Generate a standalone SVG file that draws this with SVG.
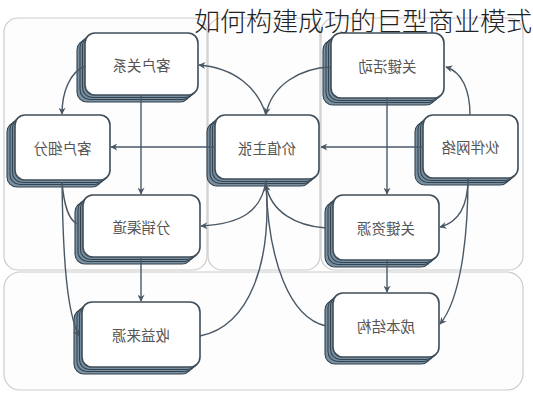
<svg xmlns="http://www.w3.org/2000/svg" width="533" height="400" viewBox="0 0 533 400">
<defs>
<style>
.p{fill:#fdfdfd;stroke:#cccccc;stroke-width:1.2}
.s{fill:#7890a2;stroke:#33434f;stroke-width:1.1}
.f{fill:#ffffff;stroke:#3f4d58;stroke-width:1.6}
.t{font-family:"Noto Sans CJK SC","Noto Sans",sans-serif;font-size:14.5px;fill:#555555;text-anchor:middle;dominant-baseline:central}
.c{fill:none;stroke:#4a5866;stroke-width:1.4}
.a{marker-end:url(#ar)}
.title{font-family:"Noto Sans CJK SC","Noto Sans",sans-serif;font-size:26px;font-weight:300;fill:#222222}
</style>
<marker id="ar" viewBox="0 0 10 10" refX="9" refY="5" markerWidth="8" markerHeight="7" markerUnits="userSpaceOnUse" orient="auto">
<path d="M0,0 L10,5 L0,10 L3,5 z" fill="#4a5866"/>
</marker>
</defs>
<rect width="533" height="400" fill="#ffffff"/>
<g id="panels">
<rect class="p" x="4" y="18" width="203" height="252" rx="14"/>
<rect class="p" x="208" y="18" width="112" height="252" rx="14"/>
<rect class="p" x="321" y="18" width="202" height="252" rx="14"/>
<rect class="p" x="4" y="272" width="519" height="118" rx="16"/>
</g>
<text class="title" x="194" y="31">如何构建成功的巨型商业模式</text>

<g id="n-khgx" transform="translate(85,33)">
<rect class="s" x="-8" y="7" width="113" height="62" rx="10"/>
<rect class="s" x="-5" y="4.5" width="113" height="62" rx="10"/>
<rect class="s" x="-2.5" y="2.5" width="113" height="62" rx="10"/>
<rect class="f" x="0" y="0" width="113" height="62" rx="10"/>
<text class="t" transform="translate(56.5,31) scale(-1,1)">客户关系</text>
</g>
<g id="n-khxf" transform="translate(15,115)">
<rect class="s" x="-8" y="7" width="95" height="65" rx="10"/>
<rect class="s" x="-5" y="4.5" width="95" height="65" rx="10"/>
<rect class="s" x="-2.5" y="2.5" width="95" height="65" rx="10"/>
<rect class="f" x="0" y="0" width="95" height="65" rx="10"/>
<text class="t" transform="translate(47.5,32.5) scale(-1,1)">客户细分</text>
</g>
<g id="n-jzzz" transform="translate(215,115)">
<rect class="s" x="-8" y="7" width="104" height="64" rx="10"/>
<rect class="s" x="-5" y="4.5" width="104" height="64" rx="10"/>
<rect class="s" x="-2.5" y="2.5" width="104" height="64" rx="10"/>
<rect class="f" x="0" y="0" width="104" height="64" rx="10"/>
<text class="t" transform="translate(52,32) scale(-1,1)">价值主张</text>
</g>
<g id="n-hbwl" transform="translate(423,115)">
<rect class="s" x="-8" y="7" width="95" height="63" rx="10"/>
<rect class="s" x="-5" y="4.5" width="95" height="63" rx="10"/>
<rect class="s" x="-2.5" y="2.5" width="95" height="63" rx="10"/>
<rect class="f" x="0" y="0" width="95" height="63" rx="10"/>
<text class="t" transform="translate(47.5,31.5) scale(-1,1)">伙伴网络</text>
</g>
<g id="n-gjhd" transform="translate(331,33)">
<rect class="s" x="-8" y="7" width="113" height="65" rx="10"/>
<rect class="s" x="-5" y="4.5" width="113" height="65" rx="10"/>
<rect class="s" x="-2.5" y="2.5" width="113" height="65" rx="10"/>
<rect class="f" x="0" y="0" width="113" height="65" rx="10"/>
<text class="t" transform="translate(56.5,32.5) scale(-1,1)">关键活动</text>
</g>
<g id="n-fxqd" transform="translate(83,195)">
<rect class="s" x="-8" y="7" width="117" height="62" rx="10"/>
<rect class="s" x="-5" y="4.5" width="117" height="62" rx="10"/>
<rect class="s" x="-2.5" y="2.5" width="117" height="62" rx="10"/>
<rect class="f" x="0" y="0" width="117" height="62" rx="10"/>
<text class="t" transform="translate(58.5,31) scale(-1,1)">分销渠道</text>
</g>
<g id="n-gjzy" transform="translate(333,195)">
<rect class="s" x="-8" y="7" width="106" height="65" rx="10"/>
<rect class="s" x="-5" y="4.5" width="106" height="65" rx="10"/>
<rect class="s" x="-2.5" y="2.5" width="106" height="65" rx="10"/>
<rect class="f" x="0" y="0" width="106" height="65" rx="10"/>
<text class="t" transform="translate(53,32.5) scale(-1,1)">关键资源</text>
</g>
<g id="n-syly" transform="translate(82,302)">
<rect class="s" x="-8" y="7" width="118" height="65" rx="10"/>
<rect class="s" x="-5" y="4.5" width="118" height="65" rx="10"/>
<rect class="s" x="-2.5" y="2.5" width="118" height="65" rx="10"/>
<rect class="f" x="0" y="0" width="118" height="65" rx="10"/>
<text class="t" transform="translate(59,32.5) scale(-1,1)">收益来源</text>
</g>
<g id="n-cbjg" transform="translate(333,293)">
<rect class="s" x="-8" y="7" width="106" height="64" rx="10"/>
<rect class="s" x="-5" y="4.5" width="106" height="64" rx="10"/>
<rect class="s" x="-2.5" y="2.5" width="106" height="64" rx="10"/>
<rect class="f" x="0" y="0" width="106" height="64" rx="10"/>
<text class="t" transform="translate(53,32) scale(-1,1)">成本结构</text>
</g>

<g id="connectors">
<path class="c a" d="M266,115 C258,88 235,68 199,65"/>
<path class="c a" d="M331,67 C300,68 272,85 266,114"/>
<path class="c a" d="M85,66 C70,72 62,92 62,114"/>
<path class="c a" d="M141,95 L141,194"/>
<path class="c a" d="M215,147 L111,147"/>
<path class="c a" d="M423,147 L321,147"/>
<path class="c a" d="M387,98 L387,194"/>
<path class="c a" d="M470,115 C470,90 462,72 446,67"/>
<path class="c a" d="M468,178 C468,205 460,222 440,227"/>
<path class="c a" d="M468,178 C468,240 460,300 440,324"/>
<path class="c a" d="M266,180 C262,212 240,224 201,226"/>
<path class="c a" d="M326,228 C296,226 271,212 266,185"/>
<path class="c" d="M266,182 C272,262 250,326 200,336"/>
<path class="c" d="M266,182 C268,262 290,318 326,326"/>
<path class="c" d="M62,182 C64,205 68,219 77,224"/>
<path class="c a" d="M62,182 C63,260 67,312 79,336"/>
<path class="c a" d="M141,257 L141,301"/>
<path class="c a" d="M387,260 L387,292"/>
</g>
</svg>
